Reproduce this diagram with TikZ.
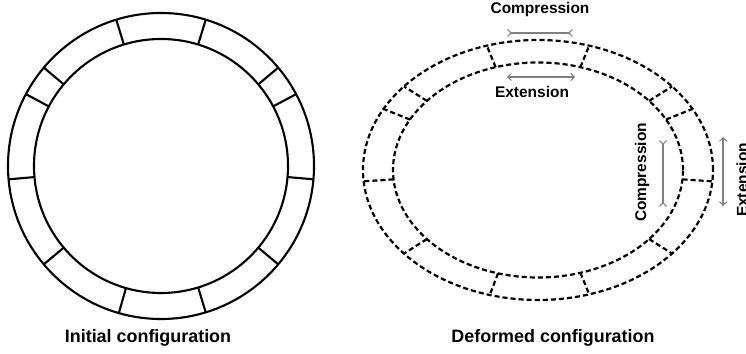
\documentclass[tikz,border=0pt]{standalone}
\usepackage{fontspec}
\setmainfont{Liberation Sans}
\usetikzlibrary{arrows.meta}

\begin{document}
\begin{tikzpicture}[x=0.02cm,y=0.02cm]
        \tikzstyle{ring}=[line width=1.2pt]
        \tikzstyle{dring}=[line width=1.25pt,dash pattern=on 2.9pt off 1.7pt]
        \tikzstyle{strain}=[gray,line width=0.6pt]
        \tikzstyle{lbl}=[font=\bfseries\fontsize{10.2}{12}\selectfont]
        \tikzstyle{small}=[font=\bfseries\fontsize{8.8}{10}\selectfont,inner sep=1pt]

        \useasboundingbox (0,0) rectangle (746,354);

        % initial configuration
        \coordinate (c0) at (161,188);
        \draw[ring] (c0) circle[radius=153];
        \draw[ring] (c0) circle[radius=127];
        \foreach \a in {28,40,73,107,140,152,185,220,254,287,320,355}
            \draw[ring] ([shift={(\a:127)}]c0) -- ([shift={(\a:153)}]c0);

        % deformed configuration
        \coordinate (c1) at (538,184);
        \draw[dring] (c1) ellipse[x radius=175,y radius=130];
        \draw[dring] (c1) ellipse[x radius=145,y radius=107.5];
        \foreach \a in {28,40,73,107,140,152,185,220,254,287,320,355}
            \draw[dring] ([shift={({145*cos(\a)},{107.5*sin(\a)})}]c1) -- ([shift={({175*cos(\a)},{130*sin(\a)})}]c1);

        \coordinate (ta) at (507,321);
        \coordinate (tb) at (573,321);
        \coordinate (ua) at (507,277);
        \coordinate (ub) at (575,277);
        \coordinate (ra) at (663,214);
        \coordinate (rb) at (663,147);
        \coordinate (sa) at (723,217);
        \coordinate (sb) at (723,148);

        \draw[strain,{Straight Barb[reversed,length=2pt]}-{Straight Barb[reversed,length=2pt]}] (ta) -- (tb);
        \draw[strain,{Straight Barb[length=2pt]}-{Straight Barb[length=2pt]}] (ua) -- (ub);
        \draw[strain,{Straight Barb[reversed,length=2pt]}-{Straight Barb[reversed,length=2pt]}] (ra) -- (rb);
        \draw[strain,{Straight Barb[length=2pt]}-{Straight Barb[length=2pt]}] (sa) -- (sb);

        \node[small] (comp1) at (540,344) {Compression};
        \node[small] (ext1) at (532,262) {Extension};
        \node[small,rotate=90] (comp2) at (642,181.5) {Compression};
        \node[small,rotate=90,anchor=north,inner sep=0pt] (ext2) at (736,174) {Extension}; % cut at the edge

        \node[lbl] (init) at (148,16) {Initial configuration};
        \node[lbl] (defo) at (553,16) {Deformed configuration};
\end{tikzpicture}
\end{document}
